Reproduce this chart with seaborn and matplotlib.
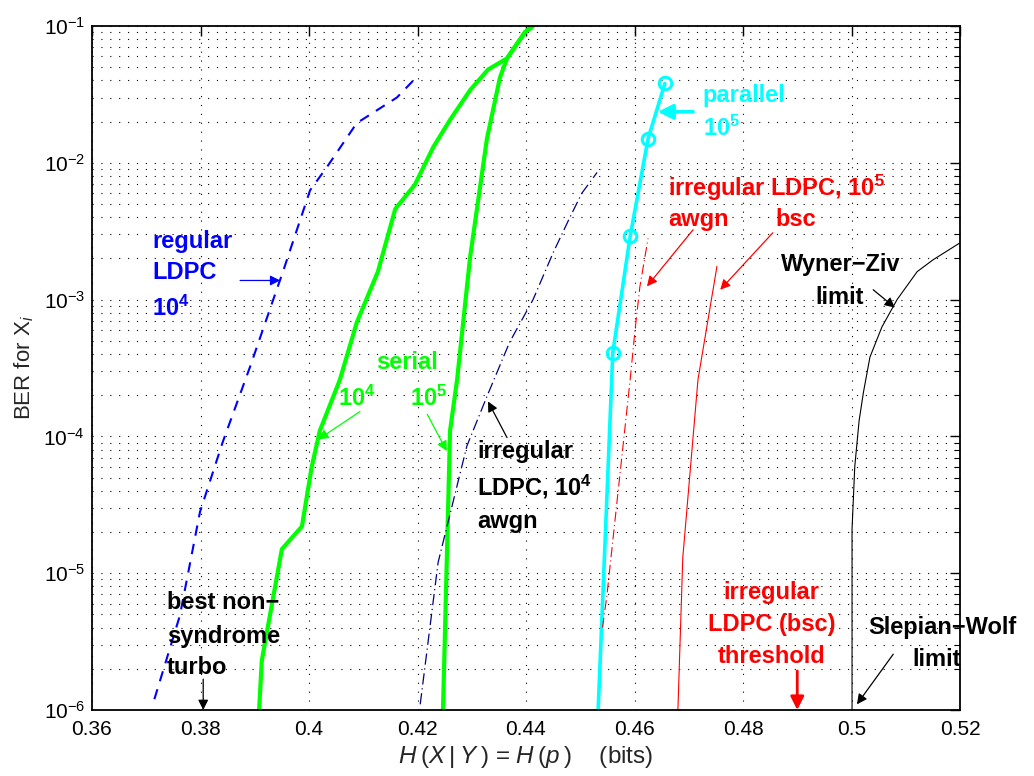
"""
BER vs conditional entropy - Slepian-Wolf coding curves
"""
import numpy as np
import pandas as pd
import matplotlib
matplotlib.use("Agg")
import matplotlib.pyplot as plt
from matplotlib.ticker import LogLocator, NullLocator, FixedLocator, FixedFormatter
import seaborn as sns

# ── data ─────────────────────────────────────────────────────────
regular_x = [0.3715, 0.3762, 0.3799, 0.3841, 0.3891, 0.3941, 0.3952, 0.4002, 0.4033, 0.4088, 0.4162, 0.4195]
regular_y = [1.2e-6, 4.9e-6, 2.8e-5, 9.1e-5, 3.2e-4, 1.2e-3, 1.6e-3, 6.3e-3, 9.3e-3, 1.95e-2, 3.0e-2, 4.1e-2]

serial4_x = [0.3908, 0.3913, 0.3950, 0.3987, 0.4005, 0.4020, 0.4057, 0.4088, 0.4127, 0.4159,
             0.4195, 0.4229, 0.4260, 0.4297, 0.4330, 0.4365, 0.4398, 0.4413]
serial4_y = [1e-6, 2.3e-6, 1.5e-5, 2.2e-5, 6.0e-5, 1.1e-4, 2.6e-4, 6.8e-4, 1.6e-3, 4.6e-3,
             6.9e-3, 1.3e-2, 2.06e-2, 3.4e-2, 4.8e-2, 5.8e-2, 9e-2, 0.1]

serial5_x = [0.4247, 0.4260, 0.4273, 0.4297, 0.4328, 0.4352, 0.4365, 0.4398, 0.4413]
serial5_y = [1e-6, 1.1e-4, 2.6e-4, 2.05e-3, 1.5e-2, 4.2e-2, 5.8e-2, 9e-2, 0.1]

irr4_x = [0.4205, 0.4238, 0.4291, 0.4328, 0.4370, 0.4413, 0.4450, 0.4481, 0.4503, 0.4531]
irr4_y = [1.1e-6, 1.2e-5, 8.5e-5, 1.96e-4, 4.9e-4, 1e-3, 2.2e-3, 4.0e-3, 6.0e-3, 8.5e-3]

parallel_x = [0.4533, 0.4560, 0.4592, 0.4625, 0.4656]
parallel_y = [1e-6, 4.1e-4, 2.9e-3, 1.5e-2, 3.8e-2]

irr5_awgn_x = [0.4541, 0.4549, 0.4592, 0.4601, 0.4610, 0.4625]
irr5_awgn_y = [4e-6, 6.8e-6, 2.6e-4, 6e-4, 1.25e-3, 2.8e-3]

irr5_bsc_x = [0.4680, 0.4689, 0.4717, 0.4752]
irr5_bsc_y = [1e-6, 1.3e-5, 2.6e-4, 1.75e-3]

wz_x = [0.5001, 0.5001, 0.5006, 0.5014, 0.5022, 0.5034, 0.5056, 0.5084, 0.5121, 0.5150, 0.52]
wz_y = [1e-6, 2.1e-5, 6e-5, 1.3e-4, 2.1e-4, 3.8e-4, 6.3e-4, 1e-3, 1.6e-3, 1.95e-3, 2.6e-3]

x_ticks = [0.36, 0.38, 0.40, 0.42, 0.44, 0.46, 0.48, 0.50, 0.52]
x_ticklabels = ["0.36", "0.38", "0.4", "0.42", "0.44", "0.46", "0.48", "0.5", "0.52"]

# ── style ───────────────────────────────────────────────────────
sns.set_style("white")
plt.rcParams["font.family"] = ["Liberation Sans", "DejaVu Sans"]
plt.rcParams["mathtext.fontset"] = "custom"
plt.rcParams["mathtext.rm"] = "Liberation Sans"
plt.rcParams["mathtext.it"] = "Liberation Sans:italic"
plt.rcParams["mathtext.bf"] = "Liberation Sans:bold"

fig = plt.figure(figsize=(10.34, 7.76), dpi=100)
ax = fig.add_axes([92 / 1034, 1 - 710 / 776, 868 / 1034, 684 / 776])
ax.set_yscale("log")

def curve(x, y, **kw):
    df = pd.DataFrame({"x": x, "y": y})
    sns.lineplot(data=df, x="x", y="y", ax=ax, sort=False, estimator=None, **kw)

curve(regular_x, regular_y, color="#0000ff", lw=1.5, linestyle=(0, (5, 4)))
curve(serial4_x, serial4_y, color="#00ff00", lw=3.0)
curve(serial5_x, serial5_y, color="#00ff00", lw=3.0)
curve(irr4_x, irr4_y, color="#000080", lw=0.9, linestyle=(0, (9, 3, 1, 3)))
curve(parallel_x, parallel_y, color="#00ffff", lw=2.6, marker="o", markevery=[1, 2, 3, 4],
      markersize=9, mfc="none", mec="#00ffff", mew=2.2)
curve(irr5_awgn_x, irr5_awgn_y, color="#ff0000", lw=0.8, linestyle=(0, (9, 3, 1, 3)))
curve(irr5_bsc_x, irr5_bsc_y, color="#ff0000", lw=0.8)
curve(wz_x, wz_y, color="black", lw=0.8)

# ── axes ────────────────────────────────────────────────────────
ax.set_xlim(0.36, 0.52)
ax.set_ylim(1e-6, 1e-1)
ax.xaxis.set_major_locator(FixedLocator(x_ticks))
ax.xaxis.set_major_formatter(FixedFormatter(x_ticklabels))
ax.xaxis.set_minor_locator(NullLocator())
ax.yaxis.set_major_locator(LogLocator(base=10, numticks=10))
ax.yaxis.set_minor_locator(LogLocator(base=10, subs=np.arange(2, 10), numticks=10))

dots = (0, (1, 7))
ax.grid(True, which="major", axis="both", color="black", lw=0.8, linestyle=dots)
ax.grid(True, which="minor", axis="y", color="black", lw=0.8, linestyle=dots)

ax.tick_params(which="both", direction="in", top=True, right=True, colors="black", labelsize=15)
ax.tick_params(which="major", length=7, width=1.0)
ax.tick_params(which="minor", length=4, width=0.8)
ax.tick_params(axis="x", pad=7)
ax.tick_params(axis="y", pad=5)
for s in ax.spines.values():
    s.set_linewidth(1.3)
    s.set_color("black")

ax.set_xlabel(r"$H\:(X\:|\:Y\:)$ = $H\:(p\:)$    (bits)", fontsize=17.5)
ax.xaxis.set_label_coords(0.5, -0.069)
ax.xaxis.label.set_va("center")
ax.set_ylabel(r"BER for X$_i$", fontsize=16)
ax.yaxis.set_label_coords(-0.078, 0.5)
ax.yaxis.label.set_va("center")

# ── annotations ─────────────────────────────────────────────────
fs = 17

def txt(x, y, s, color, ha="left"):
    ax.text(x, y, s, color=color, ha=ha, va="center", fontsize=fs, fontweight="bold")

def arrow(xy_from, xy_to, color, lw=0.9, ms=15):
    ax.annotate("", xy=xy_to, xytext=xy_from,
                arrowprops=dict(arrowstyle="-|>", color=color, lw=lw,
                                mutation_scale=ms, shrinkA=0, shrinkB=0))

# regular LDPC
txt(0.3711, 2.65e-3, "regular", "#0000ff")
txt(0.3711, 1.57e-3, "LDPC", "#0000ff")
txt(0.3711, 8.6e-4, r"$\mathbf{10^4}$", "#0000ff")
arrow((0.3873, 1.38e-3), (0.3947, 1.38e-3), "#0000ff")

# serial
txt(0.4181, 3.47e-4, "serial", "#00ff00", ha="center")
txt(0.4088, 1.9e-4, r"$\mathbf{10^4}$", "#00ff00", ha="center")
txt(0.4221, 1.9e-4, r"$\mathbf{10^5}$", "#00ff00", ha="center")
arrow((0.4094, 1.52e-4), (0.4017, 9.5e-5), "#00ff00")
arrow((0.4218, 1.45e-4), (0.4254, 7.8e-5), "#00ff00")

# irregular LDPC 10^4 awgn
txt(0.4310, 7.8e-5, "irregular", "black")
txt(0.4310, 4.3e-5, r"LDPC, $\mathbf{10^4}$", "black")
txt(0.4310, 2.4e-5, "awgn", "black")
arrow((0.4365, 9.8e-5), (0.4330, 1.8e-4), "black")

# parallel
txt(0.4726, 3.13e-2, "parallel", "#00ffff")
txt(0.4726, 1.78e-2, r"$\mathbf{10^5}$", "#00ffff")
arrow((0.4708, 2.36e-2), (0.4643, 2.36e-2), "#00ffff", lw=2.6, ms=22)

# irregular LDPC 10^5
txt(0.4662, 6.6e-3, r"irregular LDPC, $\mathbf{10^5}$", "#ff0000")
txt(0.4662, 3.84e-3, "awgn", "#ff0000")
txt(0.4859, 3.84e-3, "bsc", "#ff0000")
arrow((0.4708, 3.24e-3), (0.4623, 1.25e-3), "#ff0000")
arrow((0.4855, 3.08e-3), (0.4758, 1.18e-3), "#ff0000")

# Wyner-Ziv
txt(0.4981, 1.80e-3, "Wyner\u2212Ziv", "black", ha="center")
txt(0.4979, 1.03e-3, "limit", "black", ha="center")
arrow((0.5040, 1.18e-3), (0.5080, 8.74e-4), "black")

# best non-syndrome turbo
txt(0.3738, 6.14e-6, "best non\u2212", "black")
txt(0.3738, 3.47e-6, "syndrome", "black")
txt(0.3738, 2.06e-6, "turbo", "black")
arrow((0.3805, 1.68e-6), (0.3805, 1e-6), "black")

# threshold
txt(0.4853, 7.26e-6, "irregular", "#ff0000", ha="center")
txt(0.4853, 4.25e-6, "LDPC (bsc)", "#ff0000", ha="center")
txt(0.4853, 2.48e-6, "threshold", "#ff0000", ha="center")
arrow((0.49, 1.93e-6), (0.49, 1e-6), "#ff0000", lw=2.0, ms=20)

# Slepian-Wolf
txt(0.5167, 4.04e-6, "Slepian\u2212Wolf", "black", ha="center")
txt(0.5156, 2.35e-6, "limit", "black", ha="center")
arrow((0.5077, 2.56e-6), (0.5010, 1.1e-6), "black")

fig.savefig("out.png", dpi=100)
